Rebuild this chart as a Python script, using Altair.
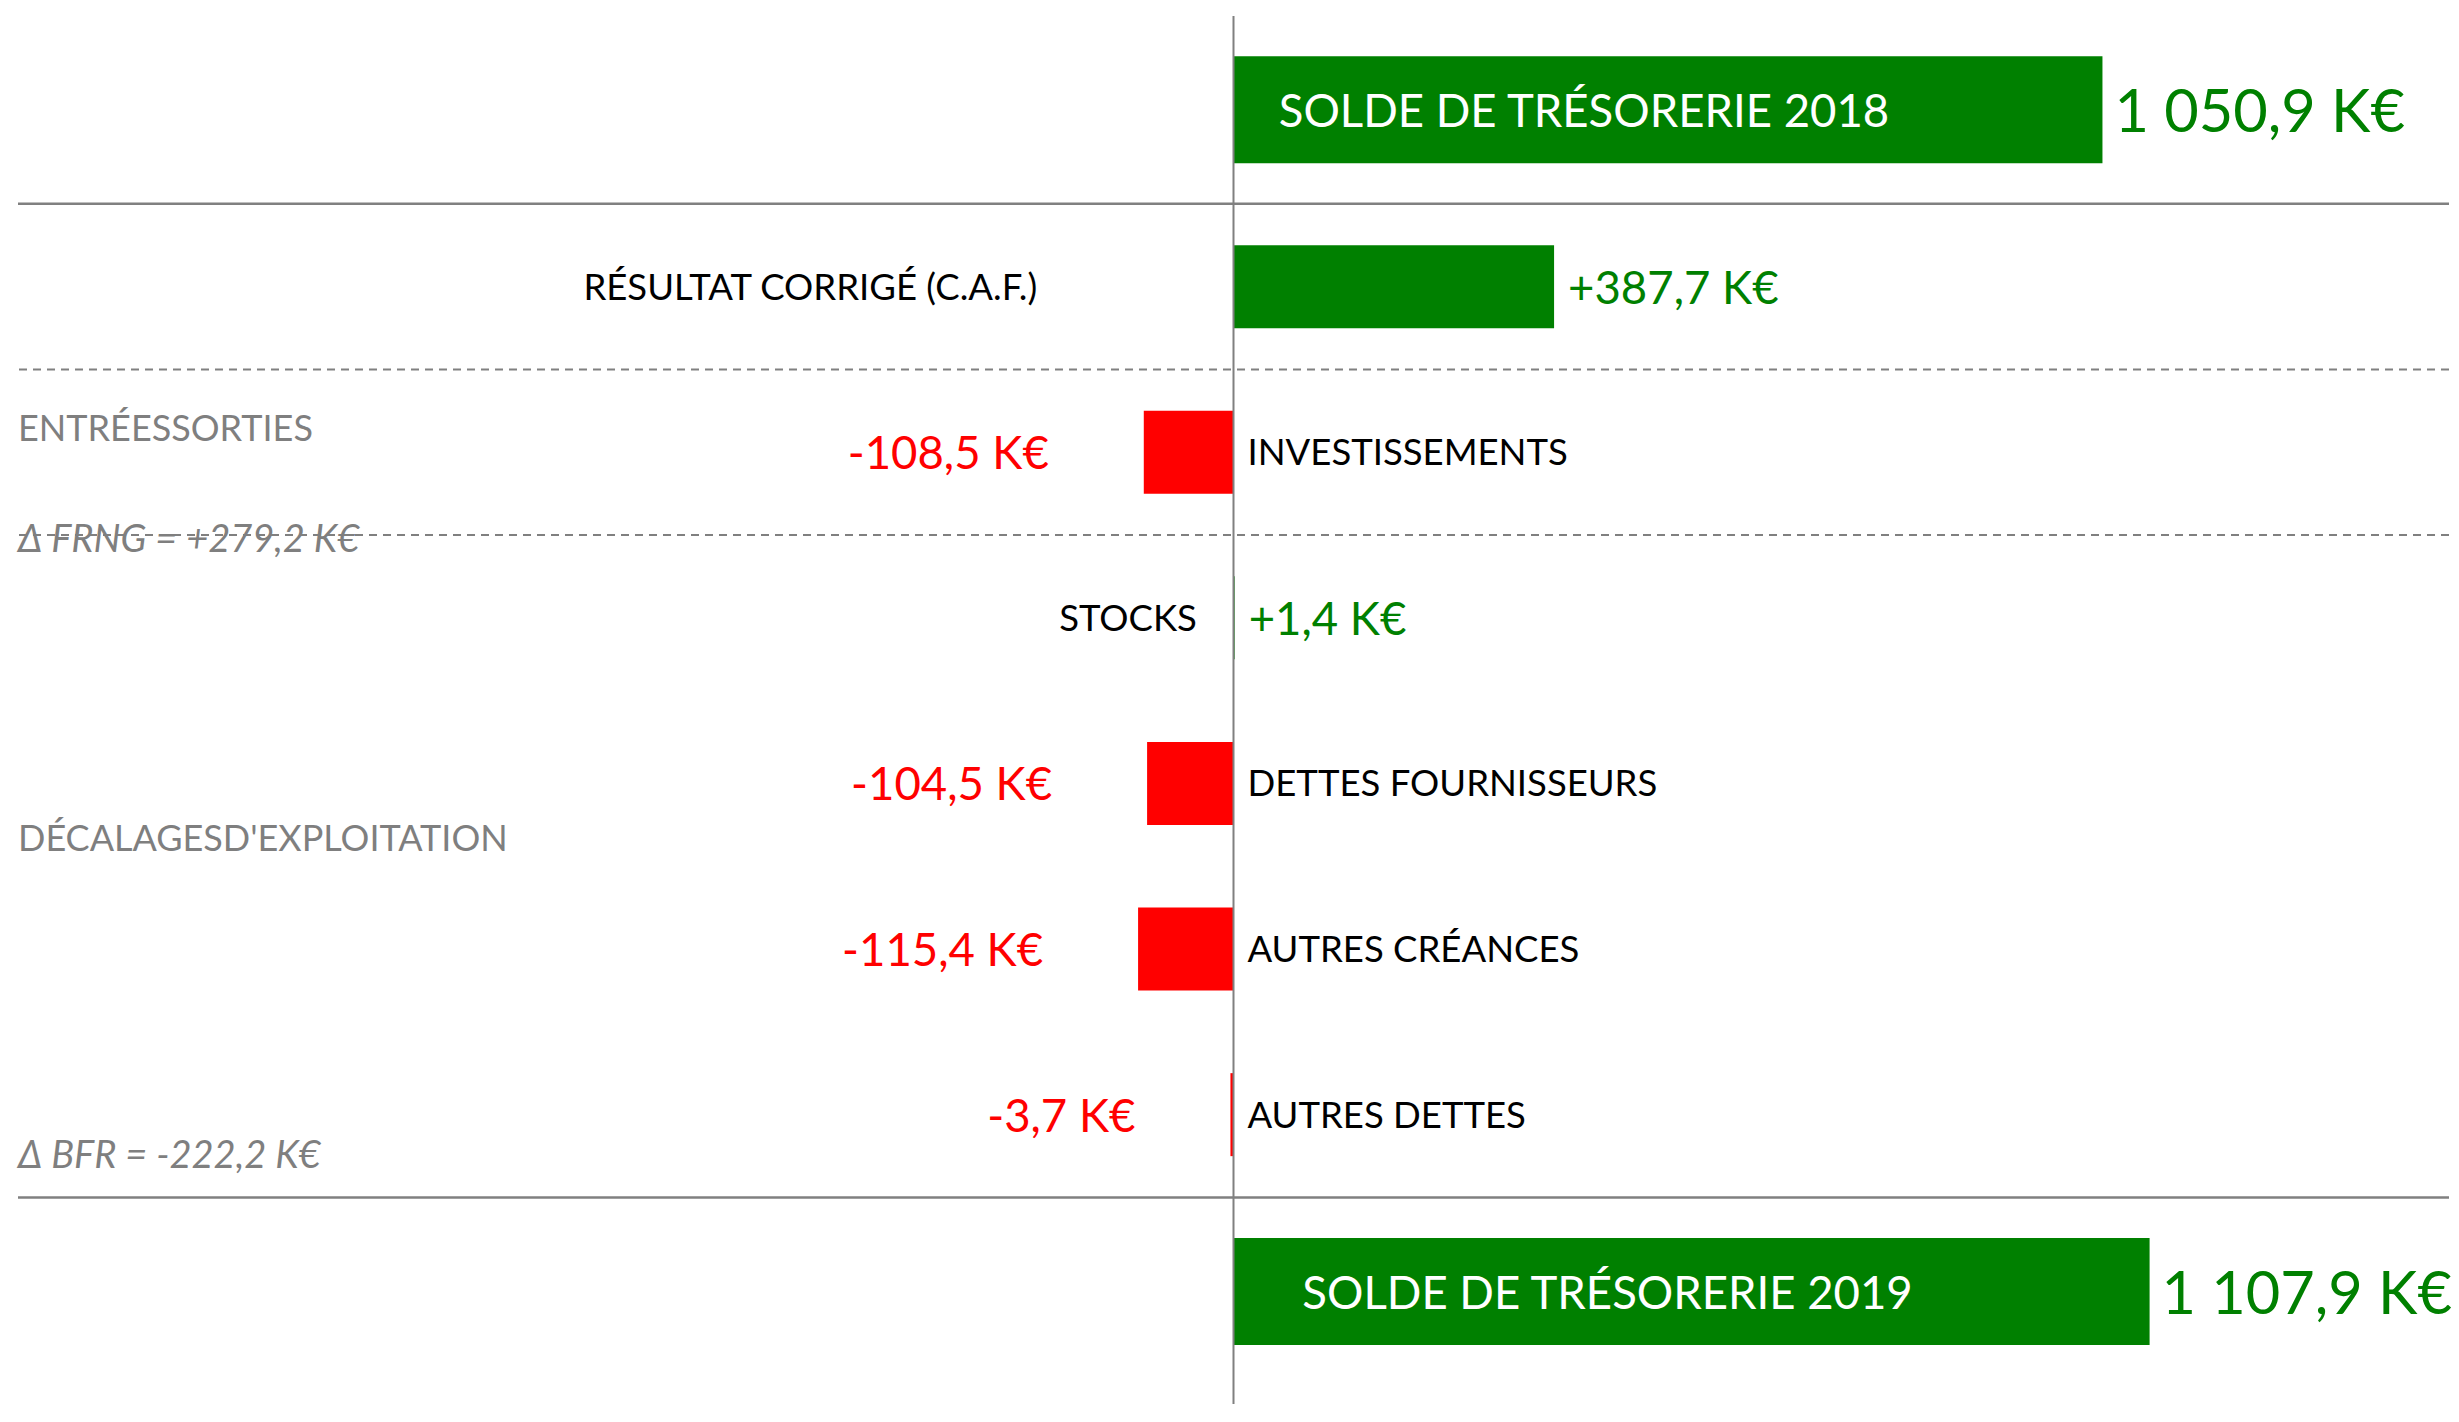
import altair as alt
import pandas as pd

# ---------------- data ----------------
rows = [
    "SOLDE DE TRÉSORERIE 2018",
    "RÉSULTAT CORRIGÉ (C.A.F.)",
    "INVESTISSEMENTS",
    "STOCKS",
    "DETTES FOURNISSEURS",
    "AUTRES CRÉANCES",
    "AUTRES DETTES",
    "SOLDE DE TRÉSORERIE 2019",
]
values = [1050.9, 387.7, -108.5, 1.4, -104.5, -115.4, -3.7, 1107.9]
kinds = ["debut", "flux", "flux", "flux", "flux", "flux", "flux", "fin"]

sep_rows = ["RÉSULTAT CORRIGÉ (C.A.F.)", "INVESTISSEMENTS", "STOCKS", "SOLDE DE TRÉSORERIE 2019"]
sep_styles = ["solid", "dashed", "dashed", "solid"]

group_titles = ["ENTRÉESSORTIES", "DÉCALAGESD'EXPLOITATION"]
group_title_rows = ["INVESTISSEMENTS", "DETTES FOURNISSEURS"]
delta_names = ["FRNG", "BFR"]
delta_rows = ["INVESTISSEMENTS", "AUTRES DETTES"]
delta_members = [[1, 2], [3, 4, 5, 6]]

# ---------------- styles ----------------
GREEN = "#008000"
RED = "#FF0000"
GRAY = "#808080"
TGRAY = "#7F7F7F"
FONT = "Lato"


def fmt(v, signed=True):
    s = f"{abs(v):,.1f}".replace(",", " ").replace(".", ",")
    if v < 0:
        s = "-" + s
    elif signed:
        s = "+" + s
    return s + " K€"


df = pd.DataFrame({"row": rows, "value": values, "kind": kinds})
df["label"] = [fmt(v, k == "flux") for v, k in zip(values, kinds)]
df["half"] = df["value"] / 2
df["mirror"] = -df["value"] / 2

flux = df[df["kind"] == "flux"]
pos = flux[flux["value"] > 0]
neg = flux[flux["value"] < 0]

sep_df = pd.DataFrame({"row": sep_rows, "style": sep_styles})

W, H = 2431, 1388
xs = alt.Scale(domain=[-1470, 1470], nice=False, zero=False)
ys = alt.Scale(domain=rows, paddingInner=0, paddingOuter=0.1908, align=0.352)
Y = alt.Y("row:N", scale=ys, axis=None)
Yedge = alt.Y("row:N", scale=ys, axis=None, bandPosition=0)


def dyc(fs):
    return round(0.06 * fs)


layers = []

# separators
layers.append(
    alt.Chart(sep_df[sep_df["style"] == "solid"])
    .mark_rule(color=GRAY, strokeWidth=2.5)
    .encode(y=Yedge)
)
layers.append(
    alt.Chart(sep_df[sep_df["style"] == "dashed"])
    .mark_rule(color=GRAY, strokeWidth=2, strokeDash=[8, 6])
    .encode(y=Yedge)
)

# flux bars
layers.append(
    alt.Chart(flux)
    .mark_bar(size=83)
    .encode(
        x=alt.X("value:Q", scale=xs, axis=None),
        x2=alt.X2(datum=0),
        y=Y,
        color=alt.condition("datum.value > 0", alt.value(GREEN), alt.value(RED)),
    )
)

FS_VAL, FS_CAT = 45.5, 36.5
layers.append(
    alt.Chart(pos)
    .mark_text(align="left", baseline="middle", dx=14, dy=dyc(FS_VAL), fontSize=FS_VAL, font=FONT, color=GREEN)
    .encode(x=alt.X("value:Q", scale=xs, axis=None), y=Y, text="label:N")
)
layers.append(
    alt.Chart(neg)
    .mark_text(align="right", baseline="middle", dx=-95, dy=dyc(FS_VAL), fontSize=FS_VAL, font=FONT, color=RED)
    .encode(x=alt.X("value:Q", scale=xs, axis=None), y=Y, text="label:N")
)
layers.append(
    alt.Chart(pos)
    .mark_text(align="right", baseline="middle", dx=-36, dy=dyc(FS_CAT), fontSize=FS_CAT, font=FONT, color="#000000")
    .encode(x=alt.X("mirror:Q", scale=xs, axis=None), y=Y, text="row:N")
)
layers.append(
    alt.Chart(neg)
    .mark_text(align="left", baseline="middle", dx=14, dy=dyc(FS_CAT), fontSize=FS_CAT, font=FONT, color="#000000")
    .encode(x=alt.X(datum=0, type="quantitative", scale=xs, axis=None), y=Y, text="row:N")
)

# totals (start / end balances)
FS_TL, FS_TV = 45.5, 59.5
for kind, off in [("debut", -11.4), ("fin", 11.3)]:
    tot = df[df["kind"] == kind]
    layers.append(
        alt.Chart(tot)
        .mark_bar(size=107, yOffset=off, color=GREEN)
        .encode(x=alt.X("value:Q", scale=xs, axis=None), x2=alt.X2(datum=0), y=Y)
    )
    layers.append(
        alt.Chart(tot)
        .mark_text(align="center", baseline="middle", dx=-84, yOffset=off, dy=dyc(FS_TL),
                   fontSize=FS_TL, font=FONT, color="white")
        .encode(x=alt.X("half:Q", scale=xs, axis=None), y=Y, text="row:N")
    )
    layers.append(
        alt.Chart(tot)
        .mark_text(align="left", baseline="middle", dx=12, yOffset=off, dy=dyc(FS_TV),
                   fontSize=FS_TV, font=FONT, color=GREEN)
        .encode(x=alt.X("value:Q", scale=xs, axis=None), y=Y, text="label:N")
    )

# zero line (drawn above the bars)
layers.append(
    alt.Chart(pd.DataFrame({"z": [0]}))
    .mark_rule(color=GRAY, strokeWidth=2)
    .encode(x=alt.X("z:Q", scale=xs, axis=None))
)

# group annotations on the left
FS_AN, FS_DL = 36, 38
title_offsets = [-24, 55]
for t, r, off in zip(group_titles, group_title_rows, title_offsets):
    layers.append(
        alt.Chart(pd.DataFrame({"row": [r], "t": [t]}))
        .mark_text(align="left", baseline="middle", dx=0, dy=off + dyc(FS_AN),
                   fontSize=FS_AN, font=FONT, color=TGRAY)
        .encode(x=alt.X(datum=-1470, type="quantitative", scale=xs, axis=None), y=Y, text="t:N")
    )

delta_offsets = [87, 40]
for name, r, members, off in zip(delta_names, delta_rows, delta_members, delta_offsets):
    total = round(sum(values[i] for i in members), 1)
    t = f"Δ {name} = " + fmt(total)
    layers.append(
        alt.Chart(pd.DataFrame({"row": [r], "t": [t]}))
        .mark_text(align="left", baseline="middle", dx=0, dy=off + dyc(FS_DL),
                   fontSize=FS_DL, font=FONT, fontStyle="italic", color=TGRAY)
        .encode(x=alt.X(datum=-1470, type="quantitative", scale=xs, axis=None), y=Y, text="t:N")
    )

chart = (
    alt.layer(*layers)
    .properties(
        width=W,
        height=H,
        autosize=alt.AutoSizeParams(type="none"),
        padding={"left": 10, "top": 8, "right": 2, "bottom": 0},
        background="white",
    )
    .configure_view(strokeWidth=0)
)

chart.save("out.html", embed_options={"renderer": "svg", "actions": False})
